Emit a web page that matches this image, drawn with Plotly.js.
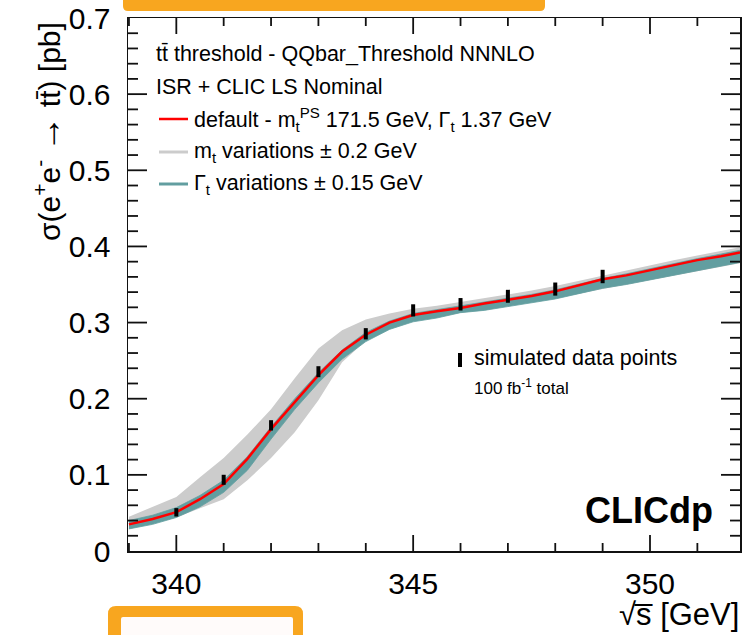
<!DOCTYPE html>
<html>
<head>
<meta charset="utf-8">
<script src="https://cdn.plot.ly/plotly-3.0.1.min.js"></script>
<style>html,body{margin:0;padding:0;background:#fff;}#chart{width:755px;height:635px;}</style>
</head>
<body>
<div id="chart"></div>
<script>
// ---- data ----
const sqrtS = [339, 339.5, 340, 340.5, 341, 341.5, 342, 342.5, 343, 343.5, 344, 344.5, 345, 345.5, 346, 346.5, 347, 347.5, 348, 348.5, 349, 349.5, 350, 350.5, 351, 351.5, 351.9];
const sigmaDefault = [0.035, 0.042, 0.051, 0.068, 0.088, 0.121, 0.160, 0.196, 0.231, 0.262, 0.284, 0.300, 0.310, 0.315, 0.319, 0.325, 0.330, 0.335, 0.341, 0.349, 0.357, 0.362, 0.369, 0.376, 0.382, 0.387, 0.392];
const mtVarHigh = [0.045, 0.058, 0.071, 0.097, 0.122, 0.153, 0.186, 0.227, 0.266, 0.290, 0.304, 0.312, 0.318, 0.322, 0.327, 0.332, 0.337, 0.342, 0.348, 0.355, 0.362, 0.368, 0.375, 0.382, 0.388, 0.394, 0.399];
const mtVarLow = [0.029, 0.036, 0.044, 0.056, 0.068, 0.093, 0.122, 0.156, 0.198, 0.248, 0.276, 0.292, 0.303, 0.308, 0.313, 0.317, 0.322, 0.327, 0.332, 0.338, 0.344, 0.350, 0.356, 0.362, 0.368, 0.374, 0.378];
const gammaVarHigh = [0.040, 0.047, 0.057, 0.073, 0.093, 0.124, 0.163, 0.200, 0.234, 0.264, 0.287, 0.302, 0.312, 0.317, 0.322, 0.327, 0.332, 0.337, 0.343, 0.351, 0.358, 0.364, 0.371, 0.378, 0.384, 0.390, 0.395];
const gammaVarLow = [0.029, 0.035, 0.044, 0.058, 0.077, 0.106, 0.147, 0.186, 0.221, 0.252, 0.275, 0.291, 0.301, 0.306, 0.313, 0.316, 0.321, 0.326, 0.331, 0.338, 0.345, 0.350, 0.356, 0.362, 0.368, 0.374, 0.379];
const dataSqrtS = [340, 341, 342, 343, 344, 345, 346, 347, 348, 349];
const dataSigma = [0.0508, 0.0935, 0.165, 0.2355, 0.2853, 0.316, 0.324, 0.3345, 0.344, 0.3605];
const dataErr = [0.0055, 0.0066, 0.0068, 0.0072, 0.0074, 0.0080, 0.0082, 0.0085, 0.0086, 0.0088];
const xRange = [338.98, 351.9];
const yRange = [0, 0.7];
const xTickVals = [340, 345, 350];
const xTickText = ['340', '345', '350'];
const xMinorVals = [339, 341, 342, 343, 344, 346, 347, 348, 349, 351];
const yTickVals = [0, 0.1, 0.2, 0.3, 0.4, 0.5, 0.6, 0.7];
const yTickText = ['0', '0.1', '0.2', '0.3', '0.4', '0.5', '0.6', '0.7'];
const yMinorVals = [0.02, 0.04, 0.06, 0.08, 0.12, 0.14, 0.16, 0.18, 0.22, 0.24, 0.26, 0.28, 0.32, 0.34, 0.36, 0.38, 0.42, 0.44, 0.46, 0.48, 0.52, 0.54, 0.56, 0.58, 0.62, 0.64, 0.66, 0.68];

// ---- layout helpers (pixel -> paper) ----
const L = 128, R = 740, T = 18, B = 551;
const px = x => (x - L) / (R - L);
const py = y => (B - y) / (B - T);
function path(pts) {
  return pts.map(p => {
    let s = p[0];
    for (let i = 1; i < p.length; i += 2) s += ' ' + px(p[i]).toFixed(5) + ',' + py(p[i + 1]).toFixed(5);
    return s;
  }).join(' ');
}

const GRAY = 'rgb(204,204,204)';
const TEAL = 'rgb(98,158,160)';
const RED = 'rgb(255,0,0)';
const ORANGE = '#F8A61F';
const FONT = 'Liberation Sans, Arial, sans-serif';
const AX = '#111';

const traces = [
  {x: sqrtS, y: mtVarLow, mode: 'lines', line: {width: 0, color: GRAY}, showlegend: false, hoverinfo: 'skip'},
  {x: sqrtS, y: mtVarHigh, mode: 'lines', line: {width: 0, color: GRAY}, fill: 'tonexty', fillcolor: GRAY, showlegend: false, hoverinfo: 'skip'},
  {x: sqrtS, y: gammaVarLow, mode: 'lines', line: {width: 0.8, color: TEAL}, showlegend: false, hoverinfo: 'skip'},
  {x: sqrtS, y: gammaVarHigh, mode: 'lines', line: {width: 0.8, color: TEAL}, fill: 'tonexty', fillcolor: TEAL, showlegend: false, hoverinfo: 'skip'},
  {x: sqrtS, y: sigmaDefault, mode: 'lines', line: {width: 2.5, color: RED}, showlegend: false},
  {x: dataSqrtS, y: dataSigma, mode: 'markers', marker: {size: 1, color: 'black'},
   error_y: {type: 'data', array: dataErr, visible: true, thickness: 4, width: 0, color: 'black'}, showlegend: false}
];

const txt = (x, y, text, size, extra) => Object.assign({
  xref: 'paper', yref: 'paper', x: px(x), y: py(y), text: text, showarrow: false,
  xanchor: 'left', yanchor: 'middle', font: {family: FONT, size: size, color: 'black'}
}, extra || {});

const annotations = [
  txt(154, 54, 'tt\u0304 threshold - QQbar_Threshold NNNLO', 21.5),
  txt(154, 87, 'ISR + CLIC LS Nominal', 21.5),
  txt(192, 120, 'default - m<sub>t</sub><sup>PS</sup> 171.5 GeV, \u0393<sub>t</sub> 1.37 GeV', 21.5),
  txt(192, 152, 'm<sub>t</sub> variations \u00b1 0.2 GeV', 21.5),
  txt(192, 184, '\u0393<sub>t</sub> variations \u00b1 0.15 GeV', 21.5),
  txt(472, 358, 'simulated data points', 21.5),
  txt(472, 387, '100 fb<sup>-1</sup> total', 17),
  txt(715, 510, '<b>CLICdp</b>', 36, {xanchor: 'right'}),
  txt(741, 614, '\u221As\u0305 [GeV]', 31, {xanchor: 'right'}),
  txt(47, 132, '\u03c3(e<sup>+</sup>e<sup>-</sup> <span style="font-size:36px;font-weight:bold">\u2192</span> tt\u0304) [pb]', 30, {xanchor: 'center', textangle: -90})
];

// tick marks placed through the axis scales (inside, mirrored on all four sides)
const tickLine = {color: AX, width: 1.8};
function xTick(v, len) {
  return [
    {type: 'line', layer: 'above', xref: 'x', yref: 'paper', ysizemode: 'pixel', yanchor: 0, x0: v, x1: v, y0: 0, y1: len, line: tickLine},
    {type: 'line', layer: 'above', xref: 'x', yref: 'paper', ysizemode: 'pixel', yanchor: 1, x0: v, x1: v, y0: 0, y1: -len, line: tickLine}
  ];
}
function yTick(v, len) {
  return [
    {type: 'line', layer: 'above', xref: 'paper', yref: 'y', xsizemode: 'pixel', xanchor: 0, y0: v, y1: v, x0: 0, x1: len, line: tickLine},
    {type: 'line', layer: 'above', xref: 'paper', yref: 'y', xsizemode: 'pixel', xanchor: 1, y0: v, y1: v, x0: 0, x1: -len, line: tickLine}
  ];
}
const inner = (v, r) => v > r[0] && v < r[1];
const tickShapes = [].concat(
  ...xTickVals.filter(v => inner(v, xRange)).map(v => xTick(v, 16)),
  ...xMinorVals.filter(v => inner(v, xRange)).map(v => xTick(v, 8)),
  ...yTickVals.filter(v => inner(v, yRange)).map(v => yTick(v, 19)),
  ...yMinorVals.filter(v => inner(v, yRange)).map(v => yTick(v, 10))
);

const shapes = tickShapes.concat([
  {type: 'line', xref: 'paper', yref: 'paper', x0: px(159), x1: px(188), y0: py(119), y1: py(119), line: {color: RED, width: 2.5}},
  {type: 'line', xref: 'paper', yref: 'paper', x0: px(159), x1: px(188), y0: py(152), y1: py(152), line: {color: GRAY, width: 3}},
  {type: 'line', xref: 'paper', yref: 'paper', x0: px(159), x1: px(188), y0: py(184), y1: py(184), line: {color: TEAL, width: 3}},
  {type: 'line', xref: 'paper', yref: 'paper', x0: px(460), x1: px(460), y0: py(353), y1: py(367), line: {color: 'black', width: 4}},
  {type: 'path', xref: 'paper', yref: 'paper', layer: 'above', line: {width: 0}, fillcolor: ORANGE,
   path: path([['M', 123, -10], ['L', 545, -10], ['L', 545, 6], ['Q', 545, 11, 540, 11], ['L', 128, 11], ['Q', 123, 11, 123, 6], ['Z']])},
  {type: 'path', xref: 'paper', yref: 'paper', layer: 'above', line: {width: 0}, fillcolor: ORANGE,
   path: path([['M', 108, 660], ['L', 108, 614], ['Q', 108, 606, 116, 606], ['L', 295, 606], ['Q', 303, 606, 303, 614], ['L', 303, 660], ['Z']])},
  {type: 'path', xref: 'paper', yref: 'paper', layer: 'above', line: {width: 0}, fillcolor: '#fffbfa',
   path: path([['M', 121, 660], ['L', 121, 619], ['Q', 121, 617, 123, 617], ['L', 291, 617], ['Q', 293, 617, 293, 619], ['L', 293, 660], ['Z']])}
]);

const majorAxis = {
  showgrid: false, zeroline: false, showline: true, linecolor: AX, linewidth: 1.5,
  mirror: true, ticks: '', tickfont: {family: FONT, size: 30, color: 'black'}, tickmode: 'array'
};

const layout = {
  width: 755, height: 635,
  margin: {l: L, r: 755 - R, t: T, b: 635 - B, pad: 0},
  showlegend: false, hovermode: false,
  xaxis: Object.assign({}, majorAxis, {range: xRange, tickvals: xTickVals, ticktext: xTickText, ticklabelstandoff: 5}),
  yaxis: Object.assign({}, majorAxis, {range: yRange, tickvals: yTickVals, ticktext: yTickText, ticklabelstandoff: 10}),
  annotations: annotations,
  shapes: shapes
};

Plotly.newPlot('chart', traces, layout, {staticPlot: true, displayModeBar: false});
</script>
</body>
</html>
